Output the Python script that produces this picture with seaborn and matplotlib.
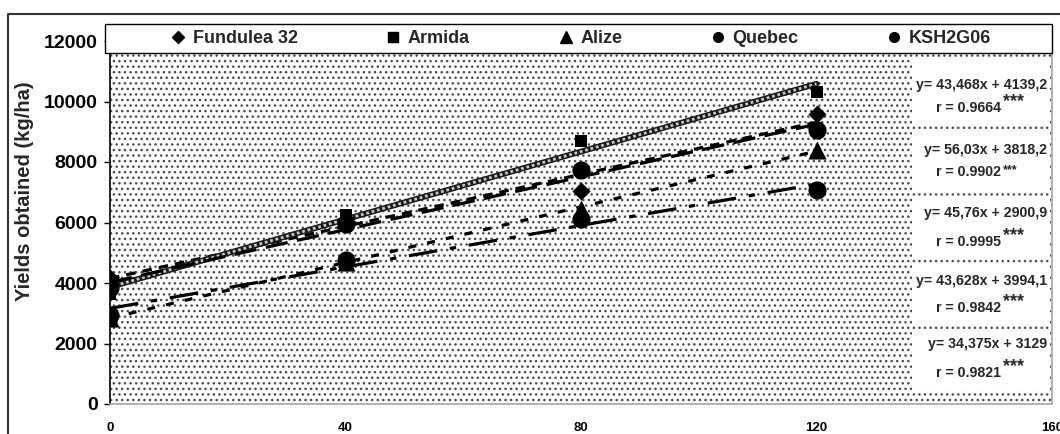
import matplotlib
matplotlib.use('Agg')
import matplotlib.pyplot as plt
import seaborn as sns
import pandas as pd
from matplotlib.patches import Rectangle
from matplotlib.lines import Line2D

# doze de azot (kg/ha) si productii obtinute (kg/ha)
doze = [0, 40, 80, 120]
fundulea = [4180, 6100, 7050, 9600]
armida = [3650, 6250, 8700, 10300]
alize = [2850, 4700, 6450, 8400]
quebec = [3830, 5950, 7720, 9050]
ksh = [2950, 4750, 6100, 7070]

soiuri = ['Fundulea 32', 'Armida', 'Alize', 'Quebec', 'KSH2G06']
ecuatii = ['y= 43,468x + 4139,2', 'y= 56,03x + 3818,2', 'y= 45,76x + 2900,9',
           'y= 43,628x + 3994,1', 'y= 34,375x + 3129']
coef_r = ['r = 0.9664', 'r = 0.9902', 'r = 0.9995', 'r = 0.9842', 'r = 0.9821']
y_ticks = [0, 2000, 4000, 6000, 8000, 10000, 12000]
x_ticks = [0, 40, 80, 120, 160]

W, H = 1060, 434

def fx(x):
    return x / W

def fy(y):
    return 1 - y / H

sns.set_theme(style='white')
plt.rcParams['font.family'] = ['Liberation Sans', 'DejaVu Sans']
plt.rcParams['font.weight'] = 'bold'
plt.rcParams['hatch.linewidth'] = 1.0

df = pd.DataFrame({'doza': doze * 5,
                   'productie': fundulea + armida + alize + quebec + ksh,
                   'soi': [s for s in soiuri for _ in doze]})

fig = plt.figure(figsize=(W / 100, H / 100), dpi=100)
ax = fig.add_axes([fx(110), fy(404), fx(1052 - 110), (404 - 41) / H])
ax.set_facecolor('white')
ax.add_patch(Rectangle((0, 0), 1, 1, transform=ax.transAxes, facecolor='white',
                       edgecolor='#4a4a4a', hatch='...', lw=0, zorder=0))

stiluri = {'Fundulea 32': (0, (3, 2.2)),
           'Alize': (0, (2.5, 3.5)),
           'Quebec': (0, (7, 3)),
           'KSH2G06': (0, (9, 4, 2, 4))}
markere = {'Fundulea 32': ('D', 85), 'Armida': ('s', 74), 'Alize': ('^', 170),
           'Quebec': ('o', 170), 'KSH2G06': ('o', 170)}

for soi in soiuri:
    sub = df[df['soi'] == soi]
    if soi == 'Armida':
        sns.regplot(data=sub, x='doza', y='productie', ax=ax, scatter=False, ci=None,
                    truncate=True, line_kws=dict(color='#1a1a1a', lw=4.2, zorder=2))
        sns.regplot(data=sub, x='doza', y='productie', ax=ax, scatter=False, ci=None,
                    truncate=True, line_kws=dict(color='#c8c8c8', lw=2.0, ls=(0, (1, 1)), zorder=2))
    else:
        sns.regplot(data=sub, x='doza', y='productie', ax=ax, scatter=False, ci=None,
                    truncate=True, line_kws=dict(color='black', lw=2.3, ls=stiluri[soi],
                                                 dash_capstyle='butt', zorder=2))

for soi in soiuri:
    sub = df[df['soi'] == soi]
    m, s = markere[soi]
    sns.scatterplot(data=sub, x='doza', y='productie', ax=ax, marker=m, s=s,
                    color='black', edgecolor='black', linewidth=0, zorder=5, legend=False)

ax.set_xlim(0, 160)
ax.set_ylim(0, 12000)
ax.set_xticks(x_ticks)
ax.set_yticks(y_ticks)
ax.set_xticklabels([str(v) for v in x_ticks], fontsize=9.5, fontweight='bold')
ax.set_yticklabels([str(v) for v in y_ticks], fontsize=14, fontweight='bold')
ax.tick_params(axis='x', length=0, pad=13, colors='black')
ax.tick_params(axis='y', length=4, width=1, pad=5, colors='black', left=True)
ax.set_xlabel('')
ax.set_ylabel('')
ax.spines['top'].set_visible(False)
ax.spines['left'].set_color('black')
ax.spines['left'].set_linewidth(1.2)
ax.spines['bottom'].set_color('#a8a8a8')
ax.spines['right'].set_color('#a8a8a8')

fig.text(fx(25), fy(191), 'Yields obtained (kg/ha)', rotation=90, ha='center',
         va='center', fontsize=14.5, fontweight='bold')

# chenarul legendei
fig.add_artist(Rectangle((fx(105), fy(53)), fx(1052 - 105), 29 / H, transform=fig.transFigure,
                         facecolor='white', edgecolor='black', lw=1.0, zorder=3))
handles = [Line2D([], [], ls='none', marker=markere[s][0], color='black',
                  markersize={'D': 6, 's': 7, '^': 8, 'o': 7}[markere[s][0]]) for s in soiuri]
fig.legend(handles, soiuri, loc='center', bbox_to_anchor=(fx(580), fy(38.5)), ncol=5,
           frameon=False, columnspacing=4.8, handletextpad=0.3, handlelength=1.0,
           prop=dict(weight='bold', size=13))

# casetele cu ecuatii
casete = [(58, 126), (131, 191), (196, 258), (263, 325), (330, 390)]
poz_ec = [85, 150, 213, 281, 344]
poz_r = [108, 172, 242, 308, 373]
for i in range(5):
    y0, y1 = casete[i]
    fig.add_artist(Rectangle((fx(912), fy(y1)), fx(1050 - 912), (y1 - y0) / H,
                             transform=fig.transFigure, facecolor='white', lw=0, zorder=3))
    fig.text(fx(1047), fy(poz_ec[i]), ecuatii[i], ha='right', va='center', fontsize=10.2,
             fontweight='bold', zorder=4)
    fig.text(fx(1001), fy(poz_r[i]), coef_r[i], ha='right', va='center', fontsize=10.2,
             fontweight='bold', zorder=4)
    if i == 1:
        fig.text(fx(1003), fy(poz_r[i] - 2), '***', ha='left', va='center', fontsize=9,
                 fontweight='bold', zorder=4)
    else:
        fig.text(fx(1003), fy(poz_r[i] - 6), '***', ha='left', va='center', fontsize=13,
                 fontweight='bold', zorder=4)

# rama exterioara
fig.add_artist(Line2D([fx(8), fx(8), 1], [0, fy(14), fy(14)], transform=fig.transFigure,
                      color='#333333', lw=1.5))

fig.savefig('out.png', dpi=100, facecolor='white')
